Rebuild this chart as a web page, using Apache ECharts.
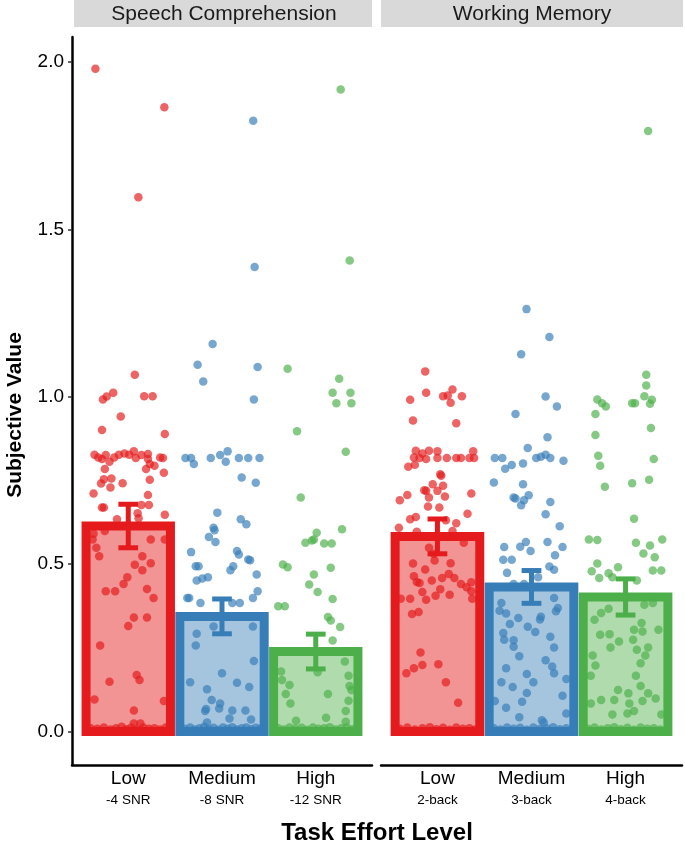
<!DOCTYPE html>
<html><head><meta charset="utf-8">
<script src="https://cdn.jsdelivr.net/npm/echarts@6/dist/echarts.min.js"></script>
<style>html,body{margin:0;padding:0;background:#fff}#c{width:685px;height:848px}</style>
</head><body><div id="c"></div>
<script>
const panels = ['Speech Comprehension', 'Working Memory'];
const levels = ['Low', 'Medium', 'High'];
const speechSub = ['-4 SNR', '-8 SNR', '-12 SNR'];
const memorySub = ['2-back', '3-back', '4-back'];
const yTicks = [0, 0.5, 1, 1.5, 2];
const speechMeans = [0.614, 0.344, 0.239];
const speechSE = [0.065, 0.052, 0.052];
const memoryMeans = [0.583, 0.432, 0.402];
const memorySE = [0.052, 0.049, 0.054];

const speechLow = [[0.65,1.98],[1.385,1.865],[1.108,1.596],
[1.07,1.066],[0.73,0.992],[0.77,1.001],[0.84,1.012],[1.17,1.002],[1.26,1.002],[0.92,0.941],[0.72,0.901],[1.39,0.889],
[0.64,0.827],[0.68,0.819],[0.72,0.814],[0.76,0.826],[0.80,0.806],[0.85,0.819],[0.90,0.827],[0.96,0.831],[1.01,0.827],[1.06,0.837],[1.08,0.817],[1.14,0.826],[1.21,0.829],[1.21,0.814],[1.23,0.799],[1.28,0.794],[1.34,0.819],[1.37,0.817],
[0.75,0.784],[1.19,0.784],[1.38,0.773],[0.74,0.754],[0.82,0.756],[0.71,0.741],[0.81,0.729],[0.94,0.742],[1.23,0.752],[0.63,0.711],[1.21,0.707],[1.22,0.677],[1.14,0.677],[0.72,0.669],[0.74,0.669],[1.10,0.652],[1.11,0.637],[1.39,0.648],[0.88,0.634],
[0.63,0.591],[0.75,0.599],[0.62,0.574],[1.24,0.574],[1.39,0.574],[0.66,0.549],[0.69,0.524],[1.15,0.524],[1.24,0.503],[1.07,0.498],[1.15,0.482],[0.99,0.461],[0.95,0.441],[0.76,0.419],[0.86,0.419],[1.20,0.426],[1.27,0.399],[1.06,0.341],[1.20,0.341],[1.00,0.315],[0.70,0.257],[1.09,0.169],[1.12,0.154],[0.80,0.149],[0.64,0.096],[1.38,0.091],[1.06,0.063],[1.06,0.024],[1.13,0.024],
[0.60,0.010],[0.67,0.008],[0.74,0.012],[0.81,0.006],[0.87,0.010],[0.93,0.014],[0.98,0.007],[1.03,0.011],[1.09,0.005],[1.16,0.012],[1.22,0.008],[1.28,0.010],[1.34,0.006],[1.40,0.012]];

const speechMedium = [[2.333,1.825],[2.348,1.388],[1.90,1.158],
[1.74,1.096],[2.38,1.089],[1.80,1.046],[2.34,0.992],
[1.61,0.817],[1.67,0.817],[1.70,0.799],[1.88,0.817],[1.98,0.826],[2.06,0.837],[2.04,0.806],[2.18,0.817],[2.28,0.817],[2.40,0.817],[2.21,0.759],[2.36,0.743],
[1.95,0.654],[2.20,0.634],[2.26,0.619],[1.91,0.609],[1.92,0.601],[1.86,0.581],[1.93,0.566],[1.67,0.536],[2.16,0.539],[2.18,0.529],[2.28,0.514],[2.30,0.512],[1.72,0.494],[1.75,0.494],[2.12,0.494],[2.09,0.482],[2.37,0.469],[1.73,0.451],[1.79,0.457],[1.85,0.461],[1.63,0.399],[1.65,0.399],[1.77,0.384],[2.11,0.384],[2.19,0.384],[2.38,0.419],[2.33,0.399],
[1.91,0.314],[2.33,0.314],[1.73,0.292],[1.72,0.257],[2.34,0.211],[2.00,0.174],[1.66,0.147],[2.16,0.146],[2.29,0.133],[1.84,0.126],[1.89,0.094],[1.98,0.084],[1.97,0.069],[1.83,0.067],[1.82,0.061],[2.11,0.063],[2.25,0.063],[2.08,0.039],[2.31,0.036],[1.84,0.027],
[1.60,0.008],[1.66,0.012],[1.71,0.006],[1.76,0.010],[1.81,0.014],[1.86,0.007],[1.91,0.011],[1.96,0.005],[2.01,0.012],[2.06,0.008],[2.11,0.013],[2.16,0.006],[2.21,0.010],[2.26,0.012],[2.31,0.007],[2.36,0.011],[2.41,0.009]];

const speechHigh = [[3.266,1.918],[3.362,1.407],
[2.70,1.084],[3.25,1.054],[3.18,1.012],[3.37,1.012],[3.22,0.981],[3.38,0.981],[2.80,0.897],[3.32,0.836],[2.84,0.699],[3.28,0.604],[3.01,0.594],[2.98,0.574],[2.96,0.571],[2.89,0.564],[3.09,0.562],[3.17,0.562],[2.65,0.499],[2.70,0.491],[3.16,0.489],[2.98,0.469],[2.93,0.439],[3.02,0.417],[3.18,0.396],[2.60,0.374],[2.67,0.374],[3.13,0.342],[3.16,0.332],[3.26,0.312],[3.18,0.272],
[3.31,0.209],[2.63,0.179],[3.02,0.177],[3.35,0.167],[2.64,0.154],[2.72,0.139],[3.36,0.136],[2.68,0.112],[3.13,0.112],[3.38,0.124],[2.73,0.084],[3.35,0.092],[3.32,0.061],[3.11,0.041],[2.79,0.032],[3.32,0.029],
[2.60,0.010],[2.66,0.006],[2.72,0.012],[2.78,0.008],[2.85,0.011],[2.91,0.005],[2.97,0.012],[3.03,0.008],[3.09,0.010],[3.15,0.013],[3.21,0.006],[3.27,0.010],[3.33,0.012],[3.39,0.007]];

const memoryLow = [[0.87,1.076],[0.71,0.991],[0.88,1.012],[1.06,1.002],[1.11,1.004],[1.16,1.022],[1.26,1.002],[1.14,0.982],[0.74,0.929],[1.20,0.921],
[0.77,0.839],[0.84,0.831],[0.91,0.839],[1.00,0.837],[0.75,0.819],[0.81,0.817],[0.88,0.814],[1.00,0.817],[1.10,0.817],[1.20,0.817],[1.25,0.817],[1.34,0.817],[1.38,0.837],[1.39,0.817],[0.76,0.797],[0.69,0.791],[1.03,0.769],[1.04,0.764],[0.95,0.739],[1.06,0.734],[0.86,0.721],[1.00,0.719],[0.88,0.719],[0.68,0.707],[0.91,0.699],[1.08,0.702],[0.60,0.691],[1.36,0.711],[0.90,0.672],[1.02,0.669],[1.32,0.651],[0.71,0.634],[0.77,0.641],[1.09,0.631],[1.20,0.622],[0.59,0.609],[0.78,0.597],[1.16,0.599],
[0.91,0.549],[0.96,0.531],[0.97,0.511],[1.28,0.564],[0.74,0.502],[1.14,0.503],[0.87,0.484],[0.75,0.464],[0.78,0.447],[0.94,0.451],[1.05,0.459],[1.12,0.471],[1.18,0.459],[0.81,0.444],[1.25,0.441],[1.36,0.446],[0.84,0.417],[1.03,0.425],[0.98,0.406],[1.13,0.409],[1.31,0.431],[0.61,0.397],[0.71,0.397],[0.88,0.394],[1.36,0.419],[1.37,0.397],[0.73,0.351],[0.80,0.357],[0.82,0.236],[0.75,0.189],[0.84,0.199],[0.67,0.174],[1.01,0.201],[1.09,0.147],[1.22,0.086],
[0.60,0.008],[0.68,0.012],[0.76,0.006],[0.84,0.010],[0.92,0.013],[0.99,0.007],[1.06,0.011],[1.13,0.005],[1.20,0.012],[1.27,0.008],[1.34,0.010],[1.40,0.006]];

const memoryMedium = [[1.947,1.262],[2.19,1.179],
[1.89,1.127],[2.15,1.001],[2.27,0.971],[1.83,0.949],[2.17,0.879],[1.96,0.847],[1.61,0.817],[1.69,0.817],[1.72,0.785],[1.79,0.796],[1.91,0.801],[2.05,0.817],[2.10,0.821],[2.15,0.827],[2.20,0.817],[2.34,0.809],[1.60,0.744],[1.91,0.739],[1.81,0.699],[1.83,0.696],[1.92,0.691],[1.97,0.706],[1.89,0.676],[2.20,0.686],[2.15,0.649],[2.30,0.613],[1.94,0.566],[1.88,0.552],[1.99,0.539],[1.71,0.551],[2.17,0.566],[2.33,0.551],[1.70,0.513],[1.79,0.513],[2.25,0.527],[2.19,0.493],[2.24,0.483],[1.74,0.474],[2.07,0.461],[1.81,0.441],[1.92,0.441],
[1.68,0.384],[2.24,0.399],[1.66,0.361],[1.73,0.353],[2.28,0.369],[2.26,0.359],[1.86,0.339],[2.10,0.343],[2.09,0.335],[1.77,0.321],[1.96,0.313],[1.70,0.294],[2.04,0.297],[1.71,0.274],[1.81,0.273],[2.20,0.283],[1.81,0.253],[2.24,0.251],[1.87,0.225],[2.15,0.213],[2.22,0.194],[1.73,0.189],[1.95,0.172],[2.24,0.174],[1.68,0.147],[2.02,0.147],[2.37,0.157],[1.80,0.133],[1.95,0.115],[2.33,0.107],[1.61,0.091],[1.90,0.089],[1.73,0.071],[2.37,0.054],[1.87,0.043],[2.11,0.034],[2.13,0.027],
[1.60,0.010],[1.67,0.006],[1.74,0.012],[1.81,0.008],[1.88,0.011],[1.95,0.005],[2.02,0.012],[2.09,0.008],[2.16,0.010],[2.23,0.013],[2.30,0.007],[2.37,0.010]];

const memoryHigh = [[3.24,1.794],
[3.22,1.066],[3.22,1.034],[3.20,1.002],[3.28,0.991],[2.70,0.992],[2.75,0.981],[2.79,0.971],[3.07,0.981],[3.10,0.981],[3.26,0.979],[2.68,0.949],[3.27,0.907],[2.68,0.886],[2.71,0.824],[2.73,0.794],[3.30,0.814],[2.78,0.731],[3.07,0.742],[3.25,0.752],[3.09,0.636],[2.61,0.574],[2.70,0.572],[3.11,0.564],[3.26,0.556],[3.39,0.574],[3.19,0.532],[3.31,0.521],[2.70,0.502],[2.92,0.491],[2.64,0.479],[2.72,0.459],[2.82,0.473],[2.86,0.461],[3.29,0.481],[3.38,0.481],[3.12,0.451],
[2.82,0.367],[2.74,0.354],[3.20,0.379],[3.29,0.384],[2.67,0.334],[3.17,0.324],[3.09,0.304],[3.18,0.299],[3.35,0.304],[2.73,0.289],[2.83,0.291],[3.08,0.274],[2.93,0.269],[2.84,0.251],[3.12,0.244],[3.24,0.251],[3.21,0.227],[2.65,0.227],[3.16,0.204],[2.68,0.197],[2.63,0.167],[3.11,0.167],[3.16,0.136],[2.92,0.124],[3.03,0.114],[3.24,0.114],[3.32,0.099],[2.74,0.094],[2.88,0.094],[2.63,0.084],[3.04,0.084],[3.18,0.091],[3.09,0.061],[3.02,0.054],[2.86,0.051],[3.38,0.051],
[2.60,0.008],[2.67,0.012],[2.74,0.006],[2.81,0.010],[2.88,0.013],[2.95,0.007],[3.02,0.011],[3.09,0.005],[3.16,0.012],[3.23,0.008],[3.30,0.010],[3.37,0.006]];

const colors = ['#E41A1C', '#377EB8', '#4DAF4A'];
const fills = ['rgba(228,26,28,0.47)', 'rgba(55,126,184,0.45)', 'rgba(77,175,74,0.45)'];
const FONT = '"Liberation Sans", Arial, sans-serif';

const chart = echarts.init(document.getElementById('c'), null, {renderer: 'canvas'});

function barSeries(gi, means) {
  return {
    type: 'custom', xAxisIndex: gi, yAxisIndex: gi, z: 1, silent: true,
    data: means.map((m, i) => [i + 1, m, i]),
    renderItem: (params, api) => {
      const x = api.value(0), v = api.value(1), i = api.value(2);
      const p0 = api.coord([x - 0.45, v]);
      const p1 = api.coord([x + 0.45, 0]);
      return {type: 'rect', shape: {x: p0[0], y: p0[1], width: p1[0] - p0[0], height: p1[1] - p0[1]},
        style: {fill: fills[i], stroke: colors[i], lineWidth: 9}};
    }
  };
}
function errSeries(gi, means, se) {
  return {
    type: 'custom', xAxisIndex: gi, yAxisIndex: gi, z: 5, silent: true,
    data: means.map((m, i) => [i + 1, m, se[i], i]),
    renderItem: (params, api) => {
      const x = api.value(0), m = api.value(1), s = api.value(2), i = api.value(3);
      const t = api.coord([x, m + s]), b = api.coord([x, m - s]);
      const hw = api.size([0.105, 0])[0];
      const st = {stroke: colors[i], lineWidth: 5};
      return {type: 'group', children: [
        {type: 'line', shape: {x1: t[0], y1: t[1], x2: b[0], y2: b[1]}, style: st},
        {type: 'line', shape: {x1: t[0] - hw, y1: t[1], x2: t[0] + hw, y2: t[1]}, style: st},
        {type: 'line', shape: {x1: b[0] - hw, y1: b[1], x2: b[0] + hw, y2: b[1]}, style: st}
      ]};
    }
  };
}
function pts(gi, data, ci) {
  return {type: 'scatter', xAxisIndex: gi, yAxisIndex: gi, z: 3, silent: true,
    data: data, symbolSize: 8.5, itemStyle: {color: colors[ci], opacity: 0.68}};
}
function xAx(gi, subs) {
  return {
    type: 'value', gridIndex: gi, min: 0.4, max: 3.6,
    axisLine: {show: true, onZero: false, lineStyle: {color: '#000', width: 2.5}},
    axisTick: {show: false}, splitLine: {show: false},
    axisLabel: {
      customValues: [1, 2, 3], margin: 3,
      formatter: v => '{a|' + levels[Math.round(v) - 1] + '}\n{b|' + subs[Math.round(v) - 1] + '}',
      rich: {a: {fontSize: 19, fontFamily: FONT, color: '#000', lineHeight: 22},
             b: {fontSize: 13.5, fontFamily: FONT, color: '#000', lineHeight: 20}}
    }
  };
}
function yAx(gi, show) {
  return {
    type: 'value', gridIndex: gi, min: -0.1, max: 2.075,
    splitLine: {show: false},
    axisLine: {show: show, lineStyle: {color: '#000', width: 2.5}},
    axisTick: {show: show, customValues: yTicks, length: 4, lineStyle: {color: '#333', width: 1.5}},
    axisLabel: {show: show, customValues: yTicks, formatter: v => v.toFixed(1), fontSize: 19,
      fontFamily: FONT, color: '#000', margin: 8}
  };
}

chart.setOption({
  animation: false,
  backgroundColor: '#fff',
  grid: [
    {left: 72, top: 37, width: 300, height: 728},
    {left: 381, top: 37, width: 301, height: 728}
  ],
  xAxis: [xAx(0, speechSub), xAx(1, memorySub)],
  yAxis: [yAx(0, true), yAx(1, false)],
  graphic: [
    {type: 'rect', shape: {x: 74, y: 0, width: 298, height: 27}, style: {fill: '#D9D9D9'}, silent: true},
    {type: 'rect', shape: {x: 381, y: 0, width: 302, height: 27}, style: {fill: '#D9D9D9'}, silent: true},
    {type: 'text', x: 224, y: 14, style: {text: panels[0], font: '21px ' + FONT, fill: '#1a1a1a', textAlign: 'center', textVerticalAlign: 'middle'}},
    {type: 'text', x: 532, y: 14, style: {text: panels[1], font: '21px ' + FONT, fill: '#1a1a1a', textAlign: 'center', textVerticalAlign: 'middle'}},
    {type: 'text', x: 15, y: 415, rotation: Math.PI / 2, style: {text: 'Subjective Value', font: 'bold 21px ' + FONT, fill: '#000', textAlign: 'center', textVerticalAlign: 'middle'}},
    {type: 'text', x: 377, y: 833, style: {text: 'Task Effort Level', font: 'bold 24px ' + FONT, fill: '#000', textAlign: 'center', textVerticalAlign: 'middle'}}
  ],
  series: [
    barSeries(0, speechMeans), barSeries(1, memoryMeans),
    pts(0, speechLow, 0), pts(0, speechMedium, 1), pts(0, speechHigh, 2),
    pts(1, memoryLow, 0), pts(1, memoryMedium, 1), pts(1, memoryHigh, 2),
    errSeries(0, speechMeans, speechSE), errSeries(1, memoryMeans, memorySE)
  ]
});
</script></body></html>
